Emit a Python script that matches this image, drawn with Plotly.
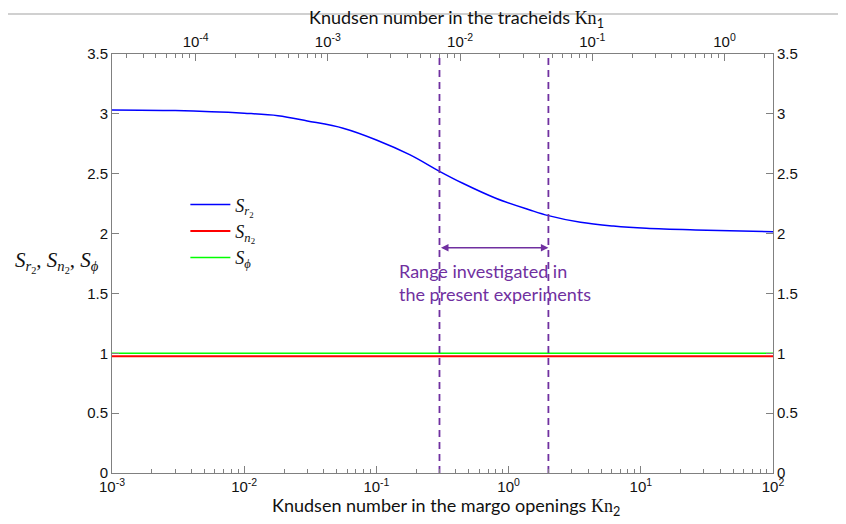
import numpy as np
import plotly.graph_objects as go

# ---- data ----
kn2 = [1e-3, 3e-3, 1e-2, 1.8e-2, 3e-2, 5.6e-2, 1e-1, 1.8e-1, 3e-1, 4.5e-1,
       8e-1, 1.45, 2.0, 3.5, 6.2, 11.0, 26.0, 100.0]
s_r2 = [3.033, 3.027, 3.005, 2.985, 2.941, 2.88, 2.782, 2.657, 2.52, 2.42,
        2.295, 2.197, 2.15, 2.094, 2.063, 2.044, 2.03, 2.016]
kn2_flat = [1e-3, 1e2]
s_n2 = [0.975, 0.975]
s_phi = [1.0, 1.0]
range_kn2 = [0.3, 2.0]
y_span = [0, 3.5]
arrow_y = 1.882

bottom_tickvals = [1e-3, 1e-2, 1e-1, 1e0, 1e1, 1e2]
bottom_ticktext = ["10<sup>-3</sup>", "10<sup>-2</sup>", "10<sup>-1</sup>",
                   "10<sup>0</sup>", "10<sup>1</sup>", "10<sup>2</sup>"]
top_tickvals = [1e-4, 1e-3, 1e-2, 1e-1, 1e0]
top_ticktext = ["10<sup>-4</sup>", "10<sup>-3</sup>", "10<sup>-2</sup>",
                "10<sup>-1</sup>", "10<sup>0</sup>"]
top_range = [-4.633, 0.367]
y_tickvals = [0, 0.5, 1, 1.5, 2, 2.5, 3, 3.5]
y_ticktext = ["0", "0.5", "1", "1.5", "2", "2.5", "3", "3.5"]
minor_mult = [2, 3, 4, 5, 6, 7, 8, 9]
bottom_minor = [m * 10.0 ** e for e in range(-3, 2) for m in minor_mult]
top_minor = [m * 10.0 ** e for e in range(-5, 1) for m in minor_mult]

PURPLE = "#7030A0"
AXC = "#808080"
TICKFONT = dict(family="Liberation Sans, Arial", size=15, color="#111111")
TITLEFONT = dict(family="Lato, Open Sans", size=18, color="#111111")
SERIF = "Liberation Serif, Times New Roman"

fig = go.Figure()

fig.add_trace(go.Scatter(x=kn2, y=s_r2, mode="lines", line=dict(color="#0000FF", width=1.5, shape="spline"),
                         name="<i>S</i><sub><i>r</i><sub>2</sub></sub>"))
fig.add_trace(go.Scatter(x=kn2_flat, y=s_n2, mode="lines", line=dict(color="#FF0000", width=2),
                         name="<i>S</i><sub><i>n</i><sub>2</sub></sub>"))
fig.add_trace(go.Scatter(x=kn2_flat, y=s_phi, mode="lines", line=dict(color="#00FF00", width=1.5),
                         name="<i>S</i><sub><i>ϕ</i></sub>"))
for xv in range_kn2:
    fig.add_trace(go.Scatter(x=[xv, xv], y=y_span, mode="lines", showlegend=False,
                             line=dict(color=PURPLE, width=1.8, dash="7px,5px"), hoverinfo="skip"))
# invisible traces to activate secondary axes
fig.add_trace(go.Scatter(x=[10 ** top_range[0], 10 ** top_range[1]], y=[0, 0], xaxis="x2", yaxis="y",
                         mode="lines", line=dict(width=0), showlegend=False, hoverinfo="skip", opacity=0))
fig.add_trace(go.Scatter(x=kn2_flat, y=[0, 0], xaxis="x", yaxis="y2",
                         mode="lines", line=dict(width=0), showlegend=False, hoverinfo="skip", opacity=0))

kn_span = '<span style="font-family:Liberation Serif">Kn</span>'

axis_common = dict(showline=True, linecolor=AXC, linewidth=1, ticks="inside", ticklen=7,
                   tickcolor=AXC, showgrid=False, zeroline=False, tickfont=TICKFONT,
                   automargin=False)

# page body has an 8px margin: figure is 838x516 placed at (8, 8)
fig.update_layout(
    width=838, height=516,
    margin=dict(l=104, r=73, t=46, b=51),
    paper_bgcolor="white", plot_bgcolor="white",
    showlegend=True,
    legend=dict(x=0.111, y=0.684, xanchor="left", yanchor="top", bgcolor="rgba(0,0,0,0)",
                font=dict(family=SERIF, size=18, color="#111111"), tracegroupgap=0,
                itemwidth=40),
    xaxis=dict(type="log", range=[-3, 2], tickvals=bottom_tickvals, ticktext=bottom_ticktext,
               minor=dict(ticks="inside", ticklen=4, tickcolor=AXC, showgrid=False, tickvals=bottom_minor),
               **axis_common),
    xaxis2=dict(type="log", range=top_range, overlaying="x", side="top", anchor="y",
                tickvals=top_tickvals, ticktext=top_ticktext,
                minor=dict(ticks="inside", ticklen=4, tickcolor=AXC, showgrid=False, tickvals=top_minor),
                **axis_common),
    yaxis=dict(range=[0, 3.5], tickvals=y_tickvals, ticktext=y_ticktext, **axis_common),
    yaxis2=dict(range=[0, 3.5], overlaying="y", side="right", anchor="x",
                tickvals=y_tickvals, ticktext=y_ticktext, **axis_common),
)

# positions given in window pixels, converted to paper units
def px(X):
    return (X - 112) / 661

def py(Y):
    return (473 - Y) / 419

fig.add_annotation(x=px(446), y=py(506), xref="paper", yref="paper",
                   xanchor="center", yanchor="middle", showarrow=False,
                   text="Knudsen number in the margo openings " + kn_span + "<sub>2</sub>", font=TITLEFONT)
fig.add_annotation(x=px(456), y=py(18.5), xref="paper", yref="paper",
                   xanchor="center", yanchor="middle", showarrow=False,
                   text="Knudsen number in the tracheids " + kn_span + "<sub>1</sub>", font=TITLEFONT)

# double-headed arrow between the dashed lines
fig.add_annotation(x=np.log10(range_kn2[1]), y=arrow_y, ax=np.log10(range_kn2[0]), ay=arrow_y,
                   xref="x", yref="y", axref="x", ayref="y", text="", showarrow=True,
                   arrowhead=2, startarrowhead=2, arrowside="end+start", arrowsize=1,
                   arrowwidth=1.5, arrowcolor=PURPLE)
fig.add_annotation(x=px(397), y=py(282), xref="paper", yref="paper",
                   xanchor="left", yanchor="middle", align="left", showarrow=False,
                   text="Range investigated in<br>the present experiments",
                   font=dict(family="Lato, Open Sans", size=18, color=PURPLE))
# y-axis label
fig.add_annotation(x=px(57), y=py(262), xref="paper", yref="paper",
                   xanchor="center", yanchor="middle", showarrow=False,
                   text="<i>S</i><sub><i>r</i><sub>2</sub></sub>, <i>S</i><sub><i>n</i><sub>2</sub></sub>, <i>S</i><sub><i>ϕ</i></sub>",
                   font=dict(family=SERIF, size=21, color="#111111"))
# thin gray rule at the very top
fig.add_shape(type="line", xref="paper", yref="paper", x0=px(0), x1=px(842),
              y0=py(14), y1=py(14), line=dict(color="#c0c0c0", width=1.5),
              layer="below")

fig.write_html("out.html")
